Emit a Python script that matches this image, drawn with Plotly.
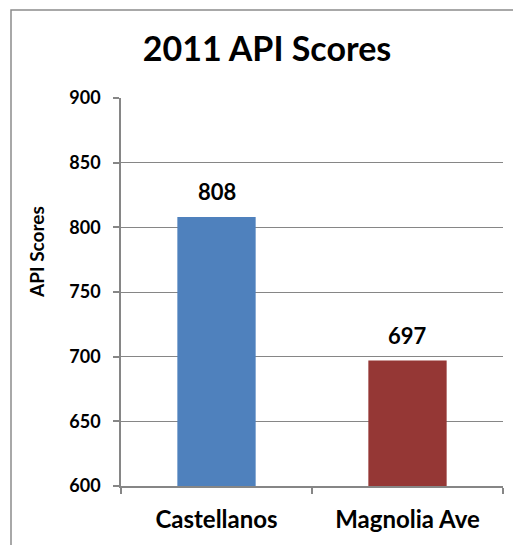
import plotly.graph_objects as go

categories = ["Castellanos", "Magnolia Ave"]
scores = [808, 697]
bar_colors = ["#4F81BD", "#953735"]
y_ticks = [600, 650, 700, 750, 800, 850, 900]
y_title = "API Scores"

FONT = "Lato"
W, H = 513, 537
L, T, PW, PH = 113, 90, 382, 393

fig = go.Figure()
fig.add_trace(go.Bar(
    x=categories, y=scores,
    marker=dict(color=bar_colors, line=dict(width=0)),
    width=0.41,
    cliponaxis=False,
))
for c, v in zip(categories, scores):
    fig.add_annotation(x=c, y=v, text=f"<b>{v}</b>", showarrow=False,
                       yanchor="bottom", yshift=10,
                       font=dict(family=FONT, size=22, color="black"))

# y-axis title (placed like the original, above the axis centre)
fig.add_annotation(xref="paper", yref="paper", x=(28 - L)/PW, y=1 - (246 - T)/PH,
                   text=f"<b>{y_title}</b>", textangle=-90, showarrow=False,
                   xanchor="center", yanchor="middle",
                   font=dict(family=FONT, size=19, color="black"))

fig.update_layout(
    width=W, height=H,
    margin=dict(l=L, r=W - L - PW, t=T, b=H - T - PH),
    paper_bgcolor="white", plot_bgcolor="white",
    showlegend=False,
    title=dict(text="<b>2011 API Scores</b>", x=259/W, xanchor="center", xref="container",
               y=1 - 41/H, yanchor="middle", yref="container",
               font=dict(family=FONT, size=34, color="black")),
    font=dict(family=FONT, color="black"),
    shapes=[dict(type="rect", xref="paper", yref="paper",
                 x0=(3 - L)/PW, x1=1.3, y0=-0.3, y1=1 + (T - 0.8)/PH,
                 line=dict(color="#8C8C8C", width=1.5), fillcolor="rgba(0,0,0,0)", layer="below")],
)
fig.update_xaxes(
    showline=True, linecolor="#868686", linewidth=1.5,
    ticks="outside", tickson="boundaries", ticklen=6, tickcolor="#868686", tickwidth=1.5,
    tickvals=categories, ticktext=[f"<b>{c}</b>" for c in categories],
    tickfont=dict(family=FONT, size=24, color="black"),
    ticklabelstandoff=11,
    showgrid=False,
)
fig.update_yaxes(
    range=[600, 900], tickvals=y_ticks, ticktext=[f"<b>{v}</b>" for v in y_ticks],
    showline=True, linecolor="#868686", linewidth=1.5,
    ticks="outside", ticklen=6, tickcolor="#868686", tickwidth=1.5,
    showgrid=True, gridcolor="#868686", gridwidth=1,
    tickfont=dict(family=FONT, size=18, color="black"),
    ticklabelstandoff=9,
    zeroline=False,
)

fig.write_html("out.html")
